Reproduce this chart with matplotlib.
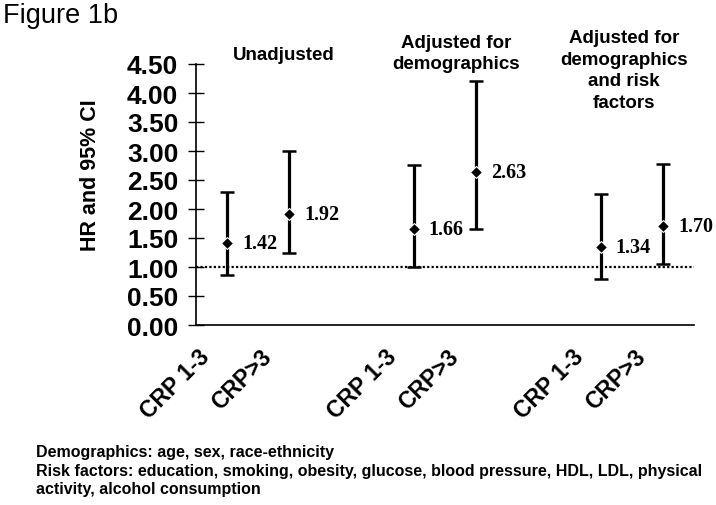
import matplotlib
matplotlib.use("Agg")
import matplotlib.pyplot as plt
import matplotlib.transforms as mtransforms
import numpy as np

# ---- data ----
groups = ["Unadjusted", "Adjusted for\ndemographics", "Adjusted for\ndemographics\nand risk\nfactors"]
categories = ["CRP 1-3", "CRP>3"]
hr = [1.42, 1.92, 1.66, 2.63, 1.34, 1.70]
ci_low = [0.87, 1.24, 1.00, 1.65, 0.80, 1.05]
ci_high = [2.30, 3.00, 2.76, 4.21, 2.26, 2.78]
yticks = [0.0, 0.5, 1.0, 1.5, 2.0, 2.5, 3.0, 3.5, 4.0, 4.5]
footnotes = ["Demographics: age, sex, race-ethnicity",
             "Risk factors: education, smoking, obesity, glucose, blood pressure, HDL, LDL, physical",
             "activity, alcohol consumption"]

W, H = 716, 506
fig = plt.figure(figsize=(W / 100, H / 100), dpi=100)
ax = fig.add_axes([196 / W, 1 - 326 / H, (694 - 196) / W, (326 - 65) / H])

xpos = []
labels = []
for g in range(len(groups)):
    for i, c in enumerate(categories):
        xpos.append(g * 3 + i + 0.5)
        labels.append(c)
xpos = np.array(xpos)
hr_a = np.array(hr)
lo_a = np.array(ci_low)
hi_a = np.array(ci_high)

ax.axhline(1.0, color="black", lw=1.6, ls=(0, (1, 1)), zorder=1)
ax.errorbar(xpos, hr_a, yerr=[hr_a - lo_a, hi_a - hr_a], fmt="none",
            ecolor="black", elinewidth=2.3, capsize=5, capthick=1.8, zorder=2)
ax.plot(xpos, hr_a, ls="none", marker="D", markersize=6.5, color="black",
        markeredgecolor="white", markeredgewidth=0.8, zorder=3)

for x, v in zip(xpos, hr):
    ax.annotate(f"{v:.2f}", (x, v), xytext=(15 * 0.72, 0), textcoords="offset points",
                ha="left", va="center", fontsize=14.5, fontweight="bold",
                family="Liberation Serif")

ax.set_xlim(0, 8)
ax.set_ylim(0, 4.5)
ax.set_yticks(yticks)
ax.set_yticklabels([f"{t:.2f}" for t in yticks], fontsize=19, fontweight="bold",
                   family="Liberation Sans")
ax.tick_params(axis="y", direction="inout", length=11.5, width=1, pad=7)
ax.set_xticks([])
for s in ["top", "right"]:
    ax.spines[s].set_visible(False)
for s in ["left", "bottom"]:
    ax.spines[s].set_linewidth(1.2)

# rotated category labels
trans = mtransforms.blended_transform_factory(ax.transData, ax.transAxes) + \
    mtransforms.ScaledTranslation(-21 / 100, -28 / 100, fig.dpi_scale_trans)
for x, lab in zip(xpos, labels):
    ax.text(x, 0, lab, transform=trans, rotation=45, rotation_mode="anchor",
            ha="right", va="center", fontsize=16.5, fontweight="bold",
            family="Liberation Sans")

# group titles
title_pos = [(284, 56), (456, 54), (624, 71)]
for (px, py), g in zip(title_pos, groups):
    fig.text(px / W, 1 - py / H, g, ha="center", va="center", fontsize=13.5,
             fontweight="bold", family="Liberation Sans", linespacing=1.35)

fig.text(91 / W, 1 - 175 / H, "HR and 95% CI", rotation=90, ha="center", va="center",
         fontsize=15.5, fontweight="bold", family="Liberation Sans")

fig.text(3 / W, 1 - 23 / H, "Figure 1b", ha="left", va="baseline", fontsize=19.5,
         family="Liberation Sans")

for yb, t in zip([457, 476, 494], footnotes):
    fig.text(36 / W, 1 - yb / H, t, ha="left", va="baseline", fontsize=11.5,
             fontweight="bold", family="Liberation Sans")

fig.savefig("out.png", dpi=100)
